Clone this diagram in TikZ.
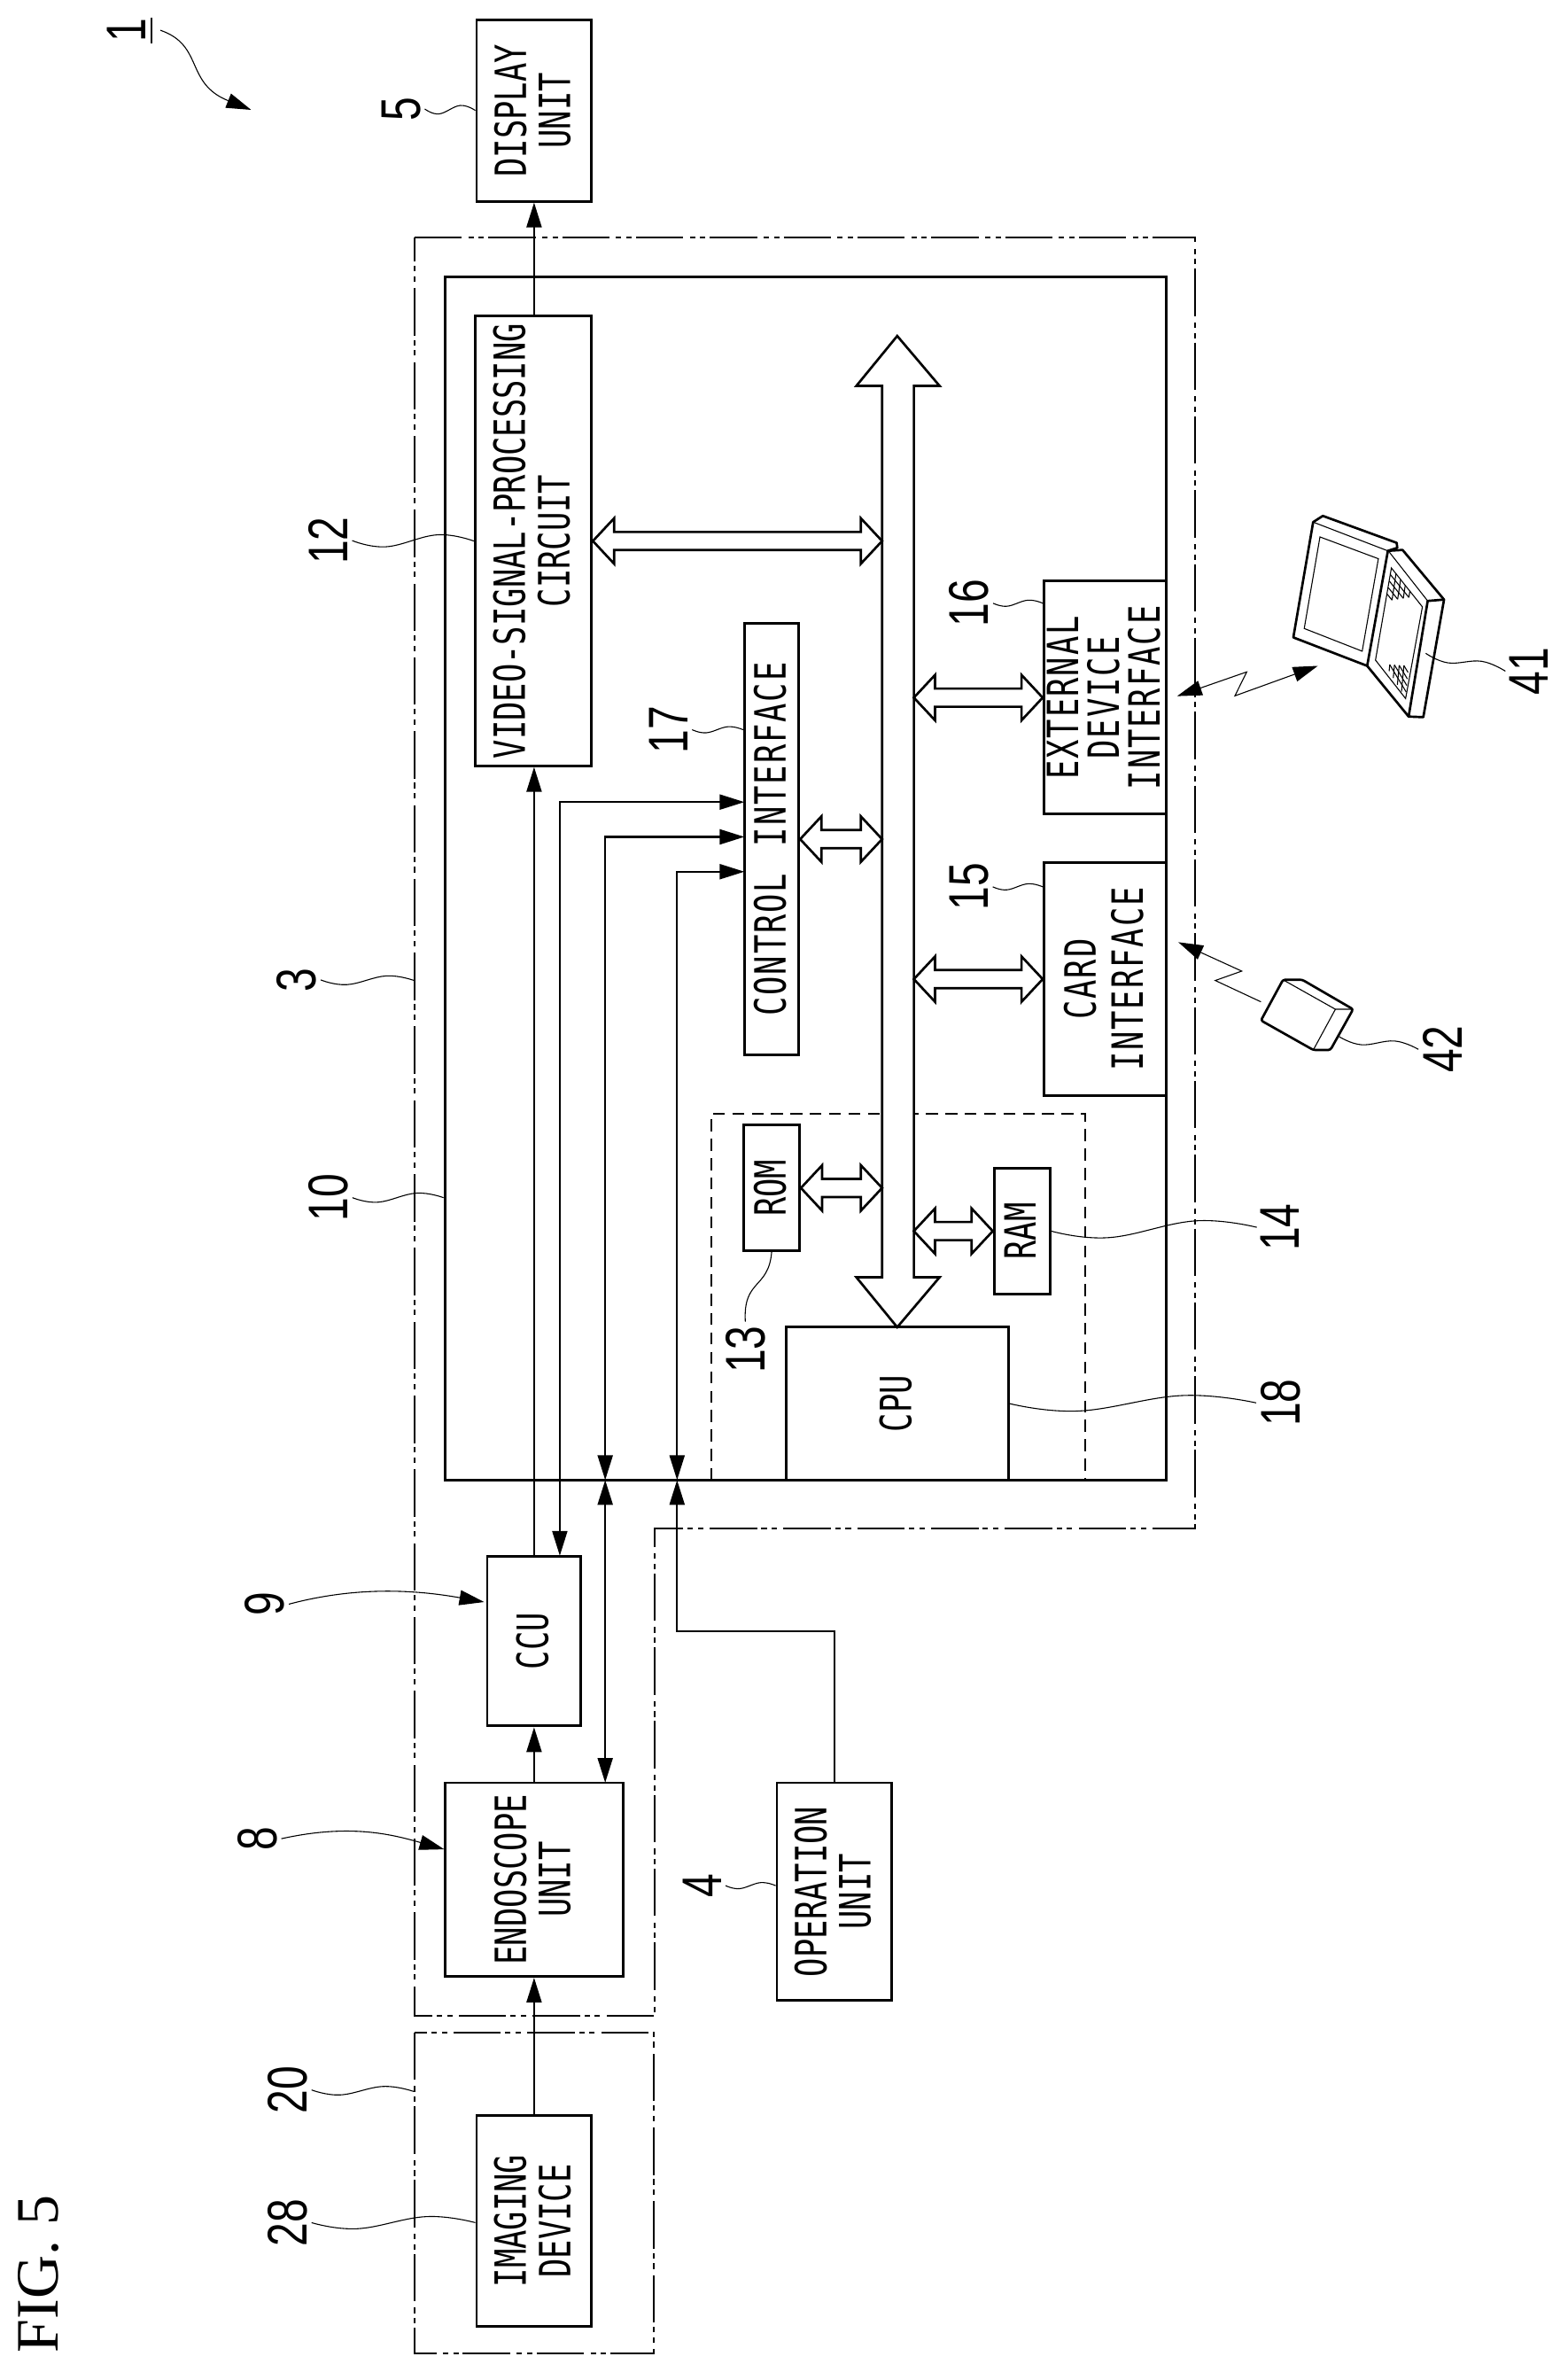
\documentclass[tikz,border=0pt]{standalone}
\usepackage{fontspec}
\usetikzlibrary{arrows.meta,calc}
\newfontfamily\boxfont[FakeStretch=0.73]{DejaVu Sans Mono}
\newfontfamily\numfont[FakeStretch=0.76]{Liberation Sans}
\setmainfont{Liberation Serif}
\def\ux{0.04943cm}
\newcommand{\vtext}[1]{\hspace*{8pt}\makebox[0pt]{\rotatebox{90}{\begin{tabular}{@{}c@{}}#1\end{tabular}}}}
\newcommand{\widearrow}[2]{\draw[widebar] (#1) -- ++(14,-15) -- ++(0,9) -- ($(#2)+(-14,-6)$) -- ++(0,-9) -- (#2) -- ++(-14,15) -- ++(0,-9) -- ($(#1)+(14,6)$) -- ++(0,9) -- cycle;}
\newcommand{\wavelead}[3][3]{\draw[leader] plot[smooth, tension=.7] coordinates {(#2) ($(#2)!.28!(#3)+(0,#1)$) ($(#2)!.7!(#3)+(0,-#1)$) (#3)};}
\tikzset{
  >={Triangle[length=23pt,width=14pt]},
  wh/.style 2 args={minimum width=#1*\ux, minimum height=#2*\ux},
  blockbox/.style={draw, line width=2.4pt, inner sep=0pt, fill=white, font=\boxfont\fontsize{40}{39}\selectfont},
  widetext/.style={font=\boxfont\addfontfeature{LetterSpace=4}\fontsize{40}{39}\selectfont},
  chainbox/.style={draw, line width=1.4pt, dash pattern=on 44pt off 6pt on 5pt off 4.6pt on 5pt off 4pt},
  dashbox/.style={draw, line width=1.6pt, dash pattern=on 11pt off 7pt},
  conn/.style={line width=1.7pt},
  widebar/.style={line width=2.2pt, fill=white, line join=miter},
  leader/.style={line width=.9pt},
  device/.style={line width=2.2pt, line join=round},
  keyline/.style={line width=.9pt},
  reflabel/.style={rotate=90, inner sep=0pt, outer sep=4pt, font=\numfont\fontsize{52}{52}\selectfont},
}
\begin{document}
\begin{tikzpicture}[x=\ux, y=-\ux]
\useasboundingbox (0,0) rectangle (1035.8,1567.4);
% outer frames
\draw[chainbox] (274,157) -- (790,157) -- (790,1010) -- (432.5,1010) -- (432.5,1332) -- (274,1332) -- cycle;
\draw[chainbox] (274,1343) rectangle (432,1555);
\node[draw, line width=2.4pt, wh={477}{795}] (main) at (532.5,580.5) {};
\draw[dashbox] (470,978) -- (470,736) -- (717,736) -- (717,978);
% blocks
\node[blockbox, wh={76}{120}] (display) at (353,73) {\vtext{DISPLAY\\UNIT}};
\node[blockbox, wh={77}{297}] (video) at (352.5,357.5) {\vtext{VIDEO-SIGNAL-PROCESSING\\CIRCUIT}};
\node[blockbox, widetext, wh={36}{285}] (ctrl) at (510,554.5) {\vtext{CONTROL\hspace{6pt} INTERFACE}};
\node[blockbox, wh={37}{83}] (rom) at (510,785) {\vtext{ROM}};
\node[blockbox, wh={37}{83}] (ram) at (675.5,813.5) {\vtext{RAM}};
\node[blockbox, wh={147}{101}] (cpu) at (593,927.5) {\vtext{CPU}};
\node[blockbox, widetext, wh={81}{154}] (ext) at (730.5,461) {\vtext{EXTERNAL\\[-3.5pt]DEVICE\\[-3.5pt]INTERFACE}};
\node[blockbox, widetext, wh={81}{154}] (card) at (730.5,647) {\vtext{CARD\\[2.5pt]INTERFACE}};
\node[blockbox, wh={62}{112}] (ccu) at (353,1084.5) {\vtext{CCU}};
\node[blockbox, wh={118}{128}] (endo) at (353,1242) {\vtext{ENDOSCOPE\\UNIT}};
\node[blockbox, wh={76}{144}] (oper) at (551.5,1250) {\vtext{OPERATION\\UNIT}};
\node[blockbox, wh={76}{139}] (imaging) at (353,1467.5) {\vtext{IMAGING\\DEVICE}};
% bus
\coordinate (busl) at (583,0);
\coordinate (busr) at (604,0);
\draw[widebar] (593,222) -- (621,255) -- (604,255) -- (604,844) -- (621,844) -- (593,877) -- (566,844) -- (583,844) -- (583,255) -- (566,255) -- cycle;
\widearrow{video.east}{video.east -| busl}
\widearrow{ctrl.east}{ctrl.east -| busl}
\widearrow{rom.east}{rom.east -| busl}
\widearrow{ram.west -| busr}{ram.west}
\widearrow{ext.west -| busr}{ext.west}
\widearrow{card.west -| busr}{card.west}
% signal lines
\coordinate (cia) at (492,530);
\coordinate (cib) at (492,553);
\coordinate (cic) at (492,576);
\coordinate (ccuin) at (370,1028);
\coordinate (endoin) at (400,1178);
\coordinate (edgeb) at (400,978);
\coordinate (edgec) at (447.5,978);
\coordinate (opbend) at (447.5,1078);
\draw[conn, ->] (display.south |- video.north) -- (display.south);
\draw[conn, ->] (ccu.north) -- (video.south -| ccu.north);
\draw[conn, <->] (cia) -| (ccuin);
\draw[conn, <->] (cib) -| (edgeb);
\draw[conn, <->] (edgeb) -- (endoin);
\draw[conn, <->] (cic) -| (edgec);
\draw[conn, ->] (oper.north) |- (opbend) -- (edgec);
\draw[conn, ->] (endo.north) -- (ccu.south);
\draw[conn, ->] (imaging.north) -- (endo.south);
% reference numbers
\node[reflabel] (n1) at (83.5,20) {1};
\node[reflabel] (n5) at (265,72) {5};
\node[reflabel] (n3) at (196,647.5) {3};
\node[reflabel] (n10) at (217,791.4) {10};
\node[reflabel] (n12) at (217,357.2) {12};
\node[reflabel] (n9) at (175,1060) {9};
\node[reflabel] (n8) at (170,1215) {8};
\node[reflabel] (n20) at (190,1381) {20};
\node[reflabel] (n28) at (190,1468.7) {28};
\node[reflabel] (n4) at (464,1246) {4};
\node[reflabel] (n17) at (441.9,482.2) {17};
\node[reflabel] (n16) at (640.4,398.6) {16};
\node[reflabel] (n15) at (640.4,586) {15};
\node[reflabel] (n13) at (492.6,891.8) {13};
\node[reflabel] (n14) at (846.2,811) {14};
\node[reflabel] (n18) at (846.2,927) {18};
\node[reflabel] (n41) at (1010.5,443.5) {41};
\node[reflabel] (n42) at (953.2,693.4) {42};
\node[rotate=90, inner sep=0pt, font=\fontsize{56}{56}\selectfont] (figlabel) at (25.7,1502.6) {FIG. 5};
% leaders
\coordinate (onetip) at (166,72.6);
\coordinate (ccutip) at (320,1058.6);
\coordinate (endotip) at (293.6,1222);
\coordinate (laptopfoot) at (942.3,431.7);
\coordinate (cardfoot) at (885.1,685);
\draw[conn] ($(n1.south)+(1,-8.5)$) -- ++(0,17);
\draw[leader, ->] (106,20) .. controls (135,30) and (122,55) .. (onetip);
\draw[leader, ->] (n9.south) .. controls +(45,-12) and +(-45,-8) .. (ccutip);
\draw[leader, ->] (n8.south) .. controls +(45,-10) and +(-35,-10) .. (endotip);
\wavelead{n5.south}{display.west}
\wavelead{n3.south}{274,648}
\wavelead{n10.south}{n10.south -| main.west}
\wavelead[4]{n12.south}{video.west}
\wavelead{n20.south}{273.4,1382}
\wavelead[4]{n28.south}{n28.south -| imaging.west}
\wavelead[2]{n4.south}{n4.south -| oper.west}
\wavelead[2]{n17.south}{n17.south -| ctrl.west}
\wavelead[2]{n16.south}{n16.south -| ext.west}
\wavelead[2]{n15.south}{n15.south -| card.west}
\wavelead[5]{ram.east}{n14.north}
\wavelead[5]{cpu.east}{n18.north}
\wavelead[3]{laptopfoot}{n41.north}
\wavelead[3]{cardfoot}{n42.north}
\draw[leader] (rom.south) .. controls (508,852) and (491,845) .. (n13.east);
% laptop
\draw[device] (854.8,421.2) -- (867.9,345) -- (874.3,340.9) -- (923.1,358.7) -- (923.5,362) -- (917.3,364) -- (903.6,440) -- cycle;
\draw[leader] (867.9,345) -- (917.3,364);
\draw[leader] (872.4,354.8) -- (911,369.2) -- (900.3,430.3) -- (862,415.3) -- cycle;
\draw[device] (917.3,364) -- (927,363.4) -- (954.4,396.2) -- (940.7,473.9) -- (931,473.5) -- (903.6,440);
\draw[device] (954.4,396.2) -- (943.6,397.1) -- (931,473.5);
\draw[leader] (918.3,364.9) -- (943.6,397.1);
\draw[leader] (919.6,375.3) -- (940.1,401) -- (929,461.6) -- (909.1,436.2) -- cycle;
\coordinate (ka) at (919.6,375.3);
\coordinate (kb) at (934.9,394.2);
\coordinate (kc) at (916.3,397.1);
\coordinate (kd) at (929,461.6);
\coordinate (ke) at (915.4,439);
\coordinate (kf) at (931,440);
\foreach \t in {.2,.4,.6,.8} {
  \draw[keyline] ($(ka)!\t!(kc)$) -- ($(kb)!\t!(kc)$);
  \draw[keyline] ($(ka)!\t!(kb)$) -- ($(kc)!\t!(kb)$);
  \draw[keyline] ($(kd)!\t!(ke)$) -- ($(kf)!\t!(ke)$);
  \draw[keyline] ($(kd)!\t!(kf)$) -- ($(ke)!\t!(kf)$);
}
% card
\draw[device, rounded corners=2pt] (848,647.4) -- (860.7,647.4) -- (894.3,666.9) -- (879.3,693.8) -- (868,693.8) -- (833.4,674.3) -- cycle;
\draw[leader] (849,648) -- (882.6,666.9) -- (894.3,666.9);
\draw[leader] (882.6,666.9) -- (868,693.8);
% zigzags
\coordinate (zigleft) at (778,460);
\coordinate (zigright) at (871,440);
\coordinate (cardtail) at (833.4,662);
\coordinate (cardtip) at (778.8,622.6);
\draw[leader, <->] (zigleft) -- (824,444) -- (816.2,459.8) -- (zigright);
\draw[leader, ->] (cardtail) -- (803.2,647.9) -- (820.7,641.7) -- (cardtip);
\end{tikzpicture}
\end{document}
